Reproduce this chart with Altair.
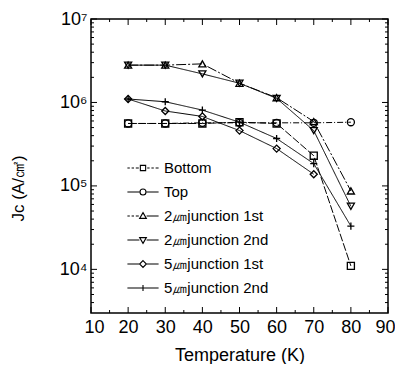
import altair as alt
import pandas as pd

# ---------------- data ----------------
temps = [20, 30, 40, 50, 60, 70, 80]
series_names = ["Bottom", "Top", "2㎛junction 1st", "2㎛junction 2nd",
                "5㎛junction 1st", "5㎛junction 2nd"]
bottom = [5.6e5, 5.6e5, 5.6e5, 5.8e5, 5.6e5, 2.3e5, 1.1e4]
top = [5.6e5, 5.6e5, 5.7e5, 5.7e5, 5.7e5, 5.7e5, 5.8e5]
j2_first = [2.8e6, 2.8e6, 2.9e6, 1.7e6, 1.14e6, 5.9e5, 8.7e4]
j2_second = [2.8e6, 2.8e6, 2.2e6, 1.7e6, 1.12e6, 4.6e5, 5.7e4]
j5_first = [1.1e6, 7.9e5, 6.8e5, 4.6e5, 2.8e5, 1.38e5, None]
j5_second = [1.1e6, 1.02e6, 8.1e5, 5.8e5, 3.7e5, 1.85e5, 3.3e4]

x_tick_labels = [10, 20, 30, 40, 50, 60, 70, 80, 90]
x_minor = [15, 25, 35, 45, 55, 65, 75, 85]
y_tick_labels = [1e4, 1e5, 1e6, 1e7]
y_minor = [k * 10 ** e for e in range(3, 7) for k in range(2, 10) if 3000 < k * 10 ** e < 1e7]

# ---------------- build table ----------------
all_series = [bottom, top, j2_first, j2_second, j5_first, j5_second]
rows = []
for name, vals in zip(series_names, all_series):
    for t, v in zip(temps, vals):
        if v is not None:
            rows.append({"T": t, "Jc": v, "series": name})
df = pd.DataFrame(rows)

W, H = 297, 294
xs = alt.Scale(domain=[10, 90], nice=False)
ys = alt.Scale(type="log", domain=[3000, 1e7], nice=False)

x_axis = alt.Axis(
    values=x_tick_labels, ticks=False, domain=False, grid=False,
    labelFontSize=18, labelPadding=5, labelColor="black",
    labelOverlap=False, labelFlush=True, labelFlushOffset=7, labelBound=False,
    title="Temperature (K)", titleFontSize=18, titleFontWeight="normal",
    titlePadding=10, titleColor="black")
y_axis = alt.Axis(
    values=y_tick_labels, ticks=False, domain=False, grid=False,
    labelFontSize=18, labelPadding=4, labelColor="black",
    labelOverlap=False, labelFlush=False,
    labelExpr="datum.value > 5e6 ? '10⁷' : datum.value > 5e5 ? '10⁶' : datum.value > 5e4 ? '10⁵' : '10⁴'",
    title="Jc (A/㎠)", titleFontSize=17, titleFontWeight="normal", titleColor="black",
    titleX=-73, titleY=169, titleAlign="center", titleBaseline="middle")

x_enc = alt.X("T:Q", scale=xs, axis=x_axis, title="Temperature (K)")
y_enc = alt.Y("Jc:Q", scale=ys, axis=y_axis, title="Jc (A/㎠)")

dash_range = [[8, 2], [6, 2, 1, 2], [10, 2, 2, 2], [1, 0], [1, 0], [1, 0]]
shape_range = ["square", "circle", "triangle-up", "triangle-down", "diamond",
               "M-1,0H1M0,-1V1"]

lines = alt.Chart(df).mark_line(color="black", strokeWidth=1).encode(
    x=x_enc, y=y_enc, detail="series:N",
    strokeDash=alt.StrokeDash("series:N", scale=alt.Scale(domain=series_names, range=dash_range), legend=None),
)

points = alt.Chart(df).mark_point(filled=False, color="black", strokeWidth=1.3, size=50, opacity=1).encode(
    x=x_enc, y=y_enc,
    shape=alt.Shape("series:N", scale=alt.Scale(domain=series_names, range=shape_range), legend=None),
)

# legend symbols: line segments + marker drawn as one custom path
dash_l = "M-1.3,0H-1.1M-0.95,0H-0.75M-0.6,0H-0.35"
dash_r = "M0.35,0H0.55M0.7,0H0.9M1.05,0H1.3"
solid_l = "M-1.3,0H-0.3"
solid_r = "M0.3,0H1.3"
legend_paths = [
    dash_l + dash_r + "M-0.22,-0.22H0.22V0.22H-0.22Z",
    solid_l + solid_r + "M-0.25,0A0.25,0.25 0 1,0 0.25,0A0.25,0.25 0 1,0 -0.25,0Z",
    dash_l + solid_r + "M0,-0.28L0.28,0.2L-0.28,0.2Z",
    solid_l + solid_r + "M0,0.28L0.28,-0.2L-0.28,-0.2Z",
    solid_l + solid_r + "M0,-0.28L0.28,0L0,0.28L-0.28,0Z",
    "M-1.3,0H1.3M0,-0.25V0.25",
]

legend_layer = alt.Chart(df).transform_filter("datum.T < 0").mark_point(
    filled=False, color="black", strokeWidth=1.1, size=576, opacity=1).encode(
    x=x_enc, y=y_enc,
    shape=alt.Shape("series:N", scale=alt.Scale(domain=series_names, range=legend_paths),
                    legend=alt.Legend(title=None, orient="none", legendX=39, legendY=136,
                                      symbolSize=576, symbolStrokeWidth=1.1,
                                      symbolStrokeColor="black", symbolFillColor="transparent",
                                      labelFontSize=15, labelColor="black", labelOffset=8,
                                      rowPadding=3, padding=0, labelLimit=300)),
)

# inward tick marks on all four sides
def xticks(vals, ln):
    d = pd.DataFrame({"T": vals})
    b = alt.Chart(d).mark_rule(color="black", strokeWidth=1).encode(
        x=x_enc, y=alt.value(H), y2=alt.value(H - ln))
    t = alt.Chart(d).mark_rule(color="black", strokeWidth=1).encode(
        x=x_enc, y=alt.value(0), y2=alt.value(ln))
    return [b, t]

def yticks(vals, ln):
    d = pd.DataFrame({"Jc": vals})
    l = alt.Chart(d).mark_rule(color="black", strokeWidth=1).encode(
        y=y_enc, x=alt.value(0), x2=alt.value(ln))
    r = alt.Chart(d).mark_rule(color="black", strokeWidth=1).encode(
        y=y_enc, x=alt.value(W), x2=alt.value(W - ln))
    return [l, r]

tick_layers = xticks(x_tick_labels, 6) + xticks(x_minor, 3) + yticks(y_tick_labels, 6) + yticks(y_minor, 3)

chart = alt.layer(lines, points, legend_layer, *tick_layers).resolve_scale(
    shape="independent"
).properties(
    width=W, height=H,
    autosize=alt.AutoSizeParams(type="none"),
    padding={"left": 83, "top": 11, "right": 7, "bottom": 51},
).configure(
    font="Liberation Sans",
).configure_axis(
    labelOverlap=False,
).configure_view(
    stroke="black", strokeWidth=1.5,
)

chart.save("out.html", embed_options={"renderer": "svg", "actions": False})
